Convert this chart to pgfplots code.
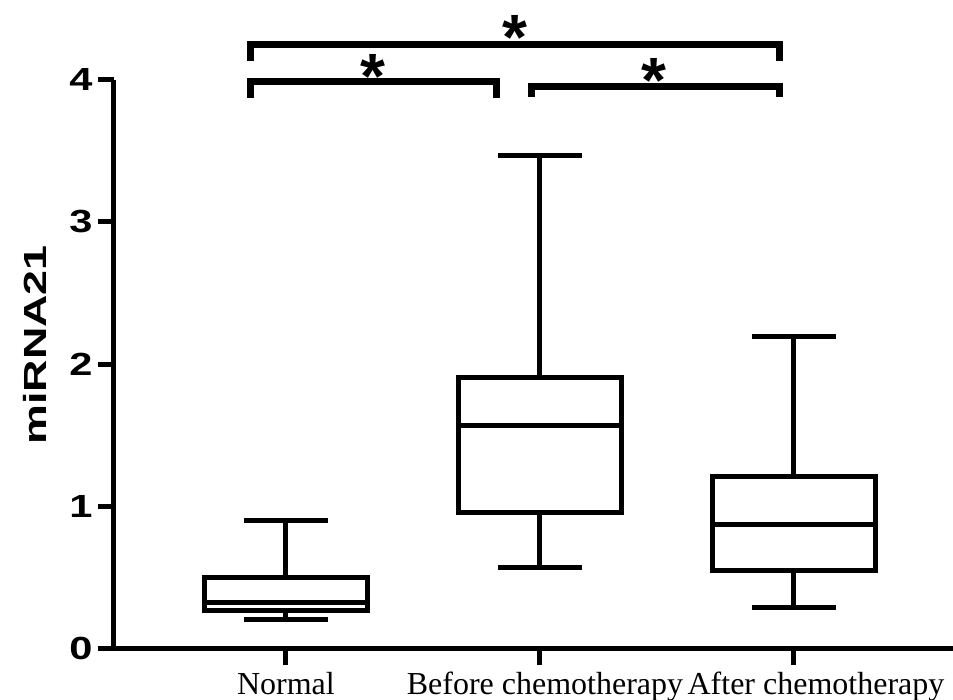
\documentclass[border=0pt]{standalone}
\usepackage{fontspec}
\setmainfont{Liberation Serif}
\newfontfamily\tickfont{Liberation Sans Bold}[FakeStretch=1.3]
\newfontfamily\labfont{Liberation Sans Bold}[FakeStretch=1.4]
\newfontfamily\starfont{Liberation Sans Bold}
\usepackage{pgfplots}
\usepgfplotslibrary{statistics}
\pgfplotsset{compat=1.18}
\begin{document}
\begin{tikzpicture}
\useasboundingbox (-57pt,-25.65pt) rectangle (419.5pt,324.35pt);
\begin{axis}[
  at={(0,0)}, anchor=south west,
  scale only axis, width=419.5pt, height=284.5pt,
  xmin=-0.677, xmax=2.626, ymin=0, ymax=4,
  axis x line*=bottom, axis y line*=left,
  axis line style={line width=2.5pt, black},
  tick align=outside, major tick length=8pt,
  tick style={line width=2.5pt, black},
  xtick={0,1,2}, xticklabels={Normal, \hspace*{5pt}Before chemotherapy, \hspace*{22pt}After chemotherapy},
  ytick={0,1,2,3,4},
  /pgf/number format/assume math mode=true,
  yticklabel style={font=\tickfont\fontsize{16}{16}\selectfont, inner sep=0pt, xshift=-2.5pt},
  xticklabel style={font=\fontsize{16}{16}\selectfont, anchor=base, inner sep=0pt, yshift=-14.8pt},
  ylabel={miRNA21},
  ylabel style={font=\labfont\fontsize{16}{16}\selectfont, at={(axis description cs:-0.0799,0.534)}, anchor=south, inner sep=0pt},
  clip=false,
  boxplot/draw direction=y,
  boxplot/box extend=0.64,
  boxplot/whisker extend=0.33,
]
\addplot[black, line width=2.5pt, boxplot prepared={draw position=0, lower whisker=0.207, lower quartile=0.268, median=0.326, upper quartile=0.502, upper whisker=0.904}] coordinates {};
\addplot[black, line width=2.5pt, boxplot prepared={draw position=1, lower whisker=0.571, lower quartile=0.957, median=1.572, upper quartile=1.909, upper whisker=3.467}] coordinates {};
\addplot[black, line width=2.5pt, boxplot prepared={draw position=2, lower whisker=0.288, lower quartile=0.547, median=0.870, upper quartile=1.214, upper whisker=2.196}] coordinates {};
% significance brackets
\draw[line width=3.5pt] (axis cs:-0.140,4.13) -- (axis cs:-0.140,4.244) -- (axis cs:1.943,4.244) -- (axis cs:1.943,4.13);
\draw[line width=3.5pt] (axis cs:-0.140,3.873) -- (axis cs:-0.140,3.986) -- (axis cs:0.829,3.986) -- (axis cs:0.829,3.873);
\draw[line width=3.5pt] (axis cs:0.967,3.880) -- (axis cs:0.967,3.954) -- (axis cs:1.943,3.954) -- (axis cs:1.943,3.880);
\node[anchor=base, inner sep=0pt, font=\starfont\fontsize{32}{32}\selectfont] at (axis cs:0.902,4.14) {*};
\node[anchor=base, inner sep=0pt, font=\starfont\fontsize{32}{32}\selectfont] at (axis cs:0.343,3.865) {*};
\node[anchor=base, inner sep=0pt, font=\starfont\fontsize{32}{32}\selectfont] at (axis cs:1.449,3.84) {*};
\end{axis}
\end{tikzpicture}
\end{document}
